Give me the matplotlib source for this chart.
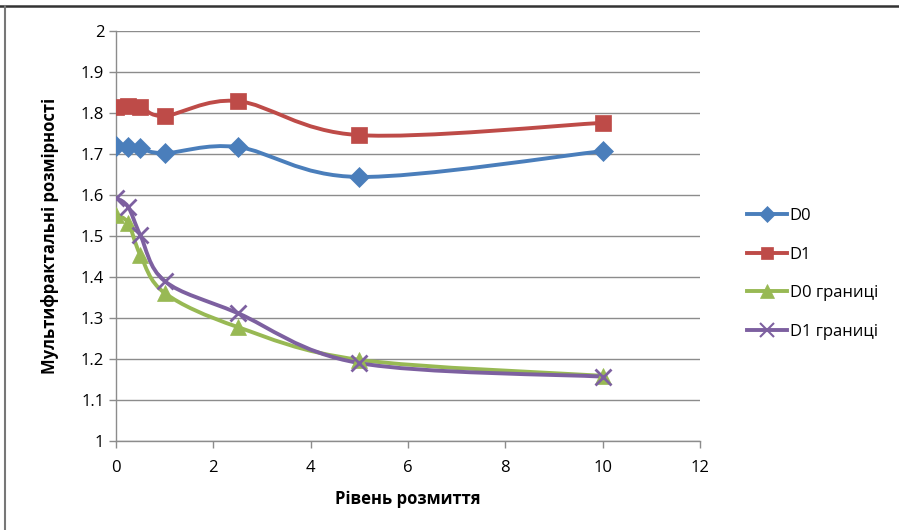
import matplotlib
matplotlib.use('Agg')
import matplotlib.pyplot as plt
from matplotlib.path import Path
from matplotlib.patches import PathPatch
from matplotlib.lines import Line2D

# рівень розмиття і мультифрактальні розмірності
blur = [0, 0.25, 0.5, 1, 2.5, 5, 10]
d0 = [1.720, 1.718, 1.714, 1.702, 1.717, 1.644, 1.707]
d1 = [1.815, 1.816, 1.815, 1.793, 1.829, 1.746, 1.776]
d0_bound = [1.551, 1.532, 1.454, 1.361, 1.278, 1.198, 1.159]
d1_bound = [1.593, 1.571, 1.502, 1.390, 1.312, 1.190, 1.157]

series_names = ['D0', 'D1', 'D0 границі', 'D1 границі']
x_ticks = [0, 2, 4, 6, 8, 10, 12]
y_ticks = [1, 1.1, 1.2, 1.3, 1.4, 1.5, 1.6, 1.7, 1.8, 1.9, 2]

FONT = ['Open Sans', 'DejaVu Sans']
plt.rcParams['font.family'] = FONT


def smooth_path(xs, ys):
    """Excel-like smoothed line: cubic Bezier segments (Catmull-Rom)."""
    pts = list(zip(xs, ys))
    verts = [pts[0]]
    codes = [Path.MOVETO]
    n = len(pts)
    for i in range(n - 1):
        p0 = pts[i - 1] if i > 0 else pts[i]
        p1 = pts[i]
        p2 = pts[i + 1]
        p3 = pts[i + 2] if i + 2 < n else pts[i + 1]
        c1 = (p1[0] + (p2[0] - p0[0]) / 6, p1[1] + (p2[1] - p0[1]) / 6)
        c2 = (p2[0] - (p3[0] - p1[0]) / 6, p2[1] - (p3[1] - p1[1]) / 6)
        verts += [c1, c2, p2]
        codes += [Path.CURVE4] * 3
    return Path(verts, codes)


fig = plt.figure(figsize=(8.99, 5.30), dpi=100)
ax = fig.add_axes([116 / 899, 1 - 441 / 530, 584 / 899, 410 / 530])

styles = [
    (d0, '#4A7EBB', 'D', 10),
    (d1, '#BE4B48', 's', 11),
    (d0_bound, '#98B954', '^', 12),
    (d1_bound, '#7D60A0', 'x', 12),
]
handles = []
for (vals, color, marker, ms), name in zip(styles, series_names):
    ax.add_patch(PathPatch(smooth_path(blur, vals), facecolor='none',
                           edgecolor=color, lw=2.8, zorder=3,
                           capstyle='round', joinstyle='round'))
    ax.plot(blur, vals, linestyle='none', marker=marker, ms=ms, color=color,
            mew=2 if marker == 'x' else 0.5, zorder=4)
    handles.append(Line2D([], [], color=color, lw=2.8, marker=marker,
                          ms=ms * 0.8, mew=1.5 if marker == 'x' else 0.5))

ax.set_xlim(0, 12)
ax.set_ylim(1, 2)
ax.set_xticks(x_ticks)
ax.set_yticks(y_ticks)
ax.set_xticklabels([str(t) for t in x_ticks])
ax.set_yticklabels(['1' if t == 1 else ('2' if t == 2 else f'{t:.1f}') for t in y_ticks])
ax.grid(axis='y', color='#8C8C8C', lw=1.0)
ax.set_axisbelow(True)
for s in ['top', 'right']:
    ax.spines[s].set_visible(False)
for s in ['left', 'bottom']:
    ax.spines[s].set_color('#8C8C8C')
    ax.spines[s].set_linewidth(1.0)
ax.tick_params(axis='both', colors='#8C8C8C', length=5, width=1,
               labelcolor='black', labelsize=12)
ax.tick_params(axis='x', pad=9)

ax.set_xlabel('Рівень розмиття', fontsize=12, fontweight='bold', labelpad=10)
ax.set_ylabel('Мультифрактальні розмірності', fontsize=12, fontweight='bold', labelpad=16)

fig.legend(handles, series_names, loc='center left',
           bbox_to_anchor=(732 / 899, 1 - 274 / 530), frameon=False,
           fontsize=12, handlelength=2.4, handletextpad=0.15, labelspacing=1.35)

# рамка навколо діаграми
fig.add_artist(Line2D([0, 1], [1 - 6 / 530, 1 - 6 / 530], color='#333333', lw=1.8))
fig.add_artist(Line2D([5 / 899, 5 / 899], [0, 1 - 6 / 530], color='#777777', lw=1.5))

fig.savefig('out.png', dpi=100)
